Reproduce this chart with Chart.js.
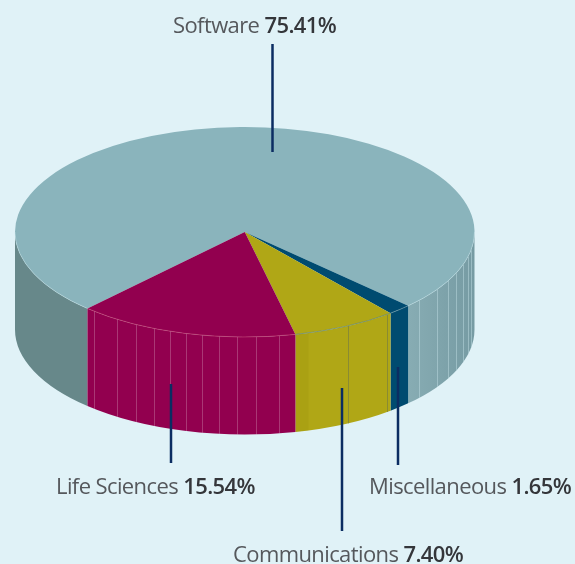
<!DOCTYPE html>
<html><head><meta charset="utf-8">
<style>html,body{margin:0;padding:0;background:#e0f2f7;overflow:hidden}canvas{display:block}</style>
<script src="https://cdn.jsdelivr.net/npm/chart.js@4/dist/chart.umd.js"></script>
</head><body><canvas id="c" width="575" height="564"></canvas>
<script>
const categories = ['Software','Miscellaneous','Communications','Life Sciences'];
const shares = [75.41,1.65,7.40,15.54];
const topColors = ['#8ab4bc','#004b70','#b0a716','#92004f'];
const sideColors = ['#85aab1','#004b70','#b0a716','#92004f'];
const startDegrees = 223.2;

// Presentation settings (not data)
const SQUASH = 105/229.75, DEPTH = 97.5;
const ribXs = [[419,437,448,456,463,468,471],[],[348,387],[94,117,136,154,170,186,202,219,237,256,279]];
const ribStyles = ['rgba(190,220,225,.5)','','rgba(125,130,60,.75)','rgba(255,255,255,.22)'];
const rimStyles = ['rgba(205,232,238,.4)','rgba(120,160,170,.6)','rgba(110,140,110,.8)','rgba(210,90,130,.5)'];
const labelStyle = {regular:'400 22px "Open Sans"',bold:'600 22px "Open Sans"',regColor:'#55585c',boldColor:'#34363a',spacing:'-0.6px'};
const labelSpots = [{x:173,y:33},{x:369,y:494},{x:233,y:562},{x:56,y:494}];
const leaders = [{x:272.5,y0:44,y1:152},{x:398,y0:367,y1:465},{x:342,y0:388,y1:531},{x:171,y0:384,y1:463}];

function segments(a0,a1){
  const out=[],T=Math.PI*2;
  for(let k=0;k<3;k++){
    const s=Math.max(a0,k*T), e=Math.min(a1,k*T+Math.PI);
    if(e>s) out.push([s,e]);
  }
  return out;
}
const pie3d = {
  id:'pie3d',
  beforeDatasetDraw(chart,args){
    const ctx=chart.ctx, arcs=args.meta.data;
    arcs.forEach((arc,i)=>{
      const {x,y,outerRadius:r,startAngle,endAngle}=arc.getProps(['x','y','outerRadius','startAngle','endAngle'],true);
      const ry=r*SQUASH;
      segments(startAngle,endAngle).forEach(([s,e],n)=>{
        ctx.beginPath();
        ctx.ellipse(x,y,r,ry,0,s,e);
        ctx.ellipse(x,y+DEPTH,r,ry,0,e,s,true);
        ctx.closePath();
        if(i===0&&n===0){ ctx.fillStyle='#67888a'; }
        else if(i===0){
          const g=ctx.createLinearGradient(x+r*0.7,0,x+r,0);
          g.addColorStop(0,'#88adb4');g.addColorStop(1,'#769ba3');
          ctx.fillStyle=g;
        } else ctx.fillStyle=sideColors[i];
        ctx.fill();
        // darker strip at the left of the communications wall
        if(i===2){
          ctx.save();ctx.clip();
          ctx.fillStyle='rgba(120,110,0,.10)';
          const xa=x+r*Math.cos(e);
          ctx.fillRect(xa,y,13,DEPTH+ry+2);
          ctx.restore();
        }
      });
      ribXs[i].forEach(px=>{
        const t=(px-x)/r, yy=ry*Math.sqrt(Math.max(0,1-t*t));
        ctx.beginPath();ctx.moveTo(px+.5,y+yy);ctx.lineTo(px+.5,y+yy+DEPTH);
        ctx.strokeStyle=ribStyles[i];ctx.lineWidth=1;ctx.stroke();
      });
    });
    ctx.save();
    const c=arcs[0];
    ctx.translate(0,c.y);ctx.scale(1,SQUASH);ctx.translate(0,-c.y);
  },
  afterDatasetDraw(chart,args){
    const ctx=chart.ctx;
    ctx.restore();
    args.meta.data.forEach((arc,i)=>{
      const {x,y,outerRadius:r,startAngle,endAngle}=arc.getProps(['x','y','outerRadius','startAngle','endAngle'],true);
      segments(startAngle,endAngle).forEach(([s,e])=>{
        ctx.beginPath();ctx.ellipse(x,y,r,r*SQUASH,0,s,e);
        ctx.strokeStyle=rimStyles[i];ctx.lineWidth=1;ctx.stroke();
      });
    });
  },
  afterDatasetsDraw(chart){
    const ctx=chart.ctx;
    ctx.save();
    leaders.forEach(l=>{
      ctx.beginPath();ctx.moveTo(l.x,l.y0);ctx.lineTo(l.x,l.y1);
      ctx.strokeStyle='#0b2d62';ctx.lineWidth=2.5;ctx.stroke();
    });
    ctx.textBaseline='alphabetic';ctx.textAlign='left';
    ctx.letterSpacing=labelStyle.spacing;
    categories.forEach((name,i)=>{
      const p=labelSpots[i];
      ctx.font=labelStyle.regular;ctx.fillStyle=labelStyle.regColor;
      const t=name+' ';
      ctx.fillText(t,p.x,p.y);
      const w=ctx.measureText(t).width;
      ctx.font=labelStyle.bold;ctx.fillStyle=labelStyle.boldColor;
      ctx.fillText(shares[i].toFixed(2)+'%',p.x+w,p.y);
    });
    ctx.restore();
  }
};
new Chart(document.getElementById('c'),{
  type:'pie',
  data:{labels:categories,datasets:[{data:shares,backgroundColor:topColors,borderWidth:0,clip:false}]},
  options:{
    responsive:false,animation:false,events:[],
    rotation:startDegrees,
    layout:{padding:{left:15,right:100.5,top:0,bottom:100}},
    plugins:{legend:{display:false},tooltip:{enabled:false},title:{display:false}}
  },
  plugins:[pie3d]
});
</script></body></html>
